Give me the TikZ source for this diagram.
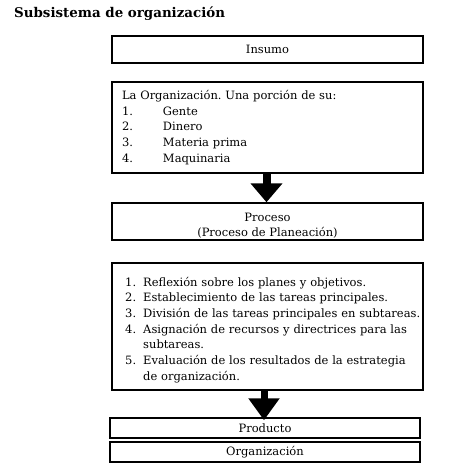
\documentclass[tikz,border=0pt]{standalone}
\usepackage{fontspec}
\setmainfont{DejaVu Serif}
\usetikzlibrary{arrows.meta}
\newcommand{\numit}[2]{\makebox[18pt][l]{#1}#2}
\frenchspacing
\begin{document}
\begin{tikzpicture}[x=1pt,y=-1pt,
  box/.style={draw, line width=1.5pt, minimum width=311pt, inner sep=0pt},
  bigarrow/.style={line width=8pt, -{Triangle[width=31pt,length=19pt]}},
  font=\frenchspacing\fontsize{11.5}{15.7}\selectfont]
\useasboundingbox (0,0) rectangle (459,474);
\node[anchor=west, inner sep=0pt, font=\bfseries\fontsize{13.4}{16}\selectfont] (title) at (14,14) {Subsistema de organización};
\node[box, minimum height=27pt] (ins) at (267.5,49.5) {Insumo};
\node[box, minimum height=91pt, text width=291pt, align=left] (org) at (267.5,127.5)
 {La Organización. Una porción de su:\\
  \makebox[41pt][l]{1.}Gente\\
  \makebox[41pt][l]{2.}Dinero\\
  \makebox[41pt][l]{3.}Materia prima\\
  \makebox[41pt][l]{4.}Maquinaria};
\node[box, minimum height=37pt] (proc) at (267.5,221.5) {};
\node[align=center, inner sep=0pt, anchor=base, font=\frenchspacing\fontsize{11.5}{15}\selectfont] (proctxt) at (267.5,236) {Proceso\\(Proceso de Planeación)};
\node[box, minimum height=127pt] (list) at (267.5,326.5) {};
\node[anchor=base west, inner sep=0pt, text width=296pt, align=left, font=\frenchspacing\fontsize{11.5}{15.67}\selectfont] (listtxt) at (125,286)
 {\numit{1.}{Reflexión sobre los planes y objetivos.}\\
  \numit{2.}{Establecimiento de las tareas principales.}\\
  \numit{3.}{\resizebox{277pt}{\height}{División de las tareas principales en subtareas.}}\\
  \numit{4.}{\makebox[277pt][s]{Asignación de recursos y directrices para las}}\\
  \numit{}{subtareas.}\\
  \numit{5.}{\makebox[277pt][s]{Evaluación de los resultados de la estrategia}}\\
  \numit{}{de organización.}};
\node[box, minimum width=310pt, minimum height=20pt] (prod) at (265,428) {Producto};
\node[box, minimum width=310pt, minimum height=20pt] (orgout) at (265,452) {Organización};
\draw[bigarrow] (266.5,0 |- org.south) -- (266.5,0 |- proc.north);
\draw[line width=7pt, -{Triangle[width=30pt,length=22pt]}] (264,0 |- list.south) -- ([yshift=-3pt]264,0 |- prod.north);
\end{tikzpicture}
\end{document}
